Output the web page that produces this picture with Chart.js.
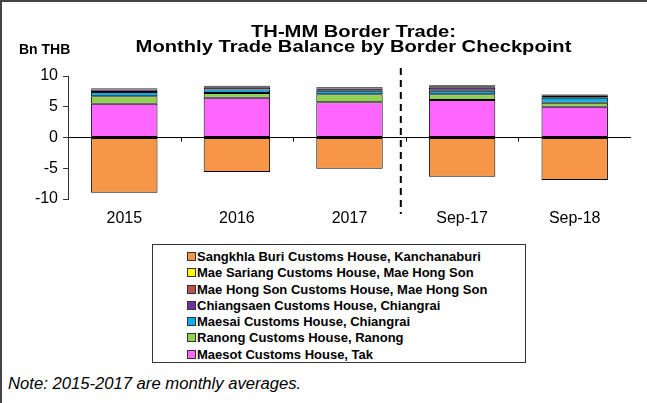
<!DOCTYPE html>
<html>
<head>
<meta charset="utf-8">
<script src="https://cdn.jsdelivr.net/npm/chart.js@4/dist/chart.umd.min.js"></script>
<style>
  html, body { margin: 0; padding: 0; background: #fff; }
  #frame {
    position: relative; width: 645px; height: 401px; overflow: hidden;
    border-left: 2px solid #444; border-top: 2px solid #444;
    font-family: "Liberation Sans", Arial, sans-serif;
  }
  #chartWrap { position: absolute; left: -2px; top: -2px; width: 647px; height: 240px; }
  #legend {
    position: absolute; left: 150px; top: 242px; width: 372px; height: 113px;
    border: 1.5px solid #333; padding-top: 4px; box-sizing: content-box;
  }
  .item { height: 16.3px; line-height: 16.3px; padding-left: 34px; font-weight: bold; font-size: 13px; color: #000; white-space: nowrap; }
  .sw { display: inline-block; width: 7px; height: 7px; border: 1px solid #333; margin-right: 1px; vertical-align: 0px; }
  #note { position: absolute; left: 6px; top: 373px; font-style: italic; font-size: 16px; color: #000; transform: scaleX(1.04); transform-origin: left center; white-space: nowrap; }
</style>
</head>
<body>
<div id="frame">
  <div id="chartWrap"><canvas id="c" width="647" height="240"></canvas></div>
  <div id="legend"></div>
  <div id="note">Note: 2015-2017 are monthly averages.</div>
</div>
<script>
// categories and series (Bn THB)
const categories = ['2015', '2016', '2017', 'Sep-17', 'Sep-18'];
const maesot      = [5.5, 6.45, 5.75, 6.1, 5.0];
const ranong      = [1.2, 0.8, 1.3, 0.95, 0.65];
const maesai      = [0.7, 0.57, 0.55, 0.55, 0.8];
const chiangsaen  = [0.4, 0.35, 0.35, 0.5, 0.35];
const maeHongSon  = [0.15, 0.15, 0.15, 0.25, 0.15];
const maeSariang  = [0.1, 0.1, 0.1, 0.15, 0.1];
const sangkhlaBuri = [-9.0, -5.6, -5.1, -6.4, -6.9];
const yTicks = [-10, -5, 0, 5, 10];

const font = '"Liberation Sans", Arial, sans-serif';

// bottom of the stack first, legend shows them reversed
const series = [
  { label: 'Maesot Customs House, Tak', data: maesot, color: '#FF66FF' },
  { label: 'Ranong Customs House, Ranong', data: ranong, color: '#92D050' },
  { label: 'Maesai Customs House, Chiangrai', data: maesai, color: '#00B0F0' },
  { label: 'Chiangsaen Customs House, Chiangrai', data: chiangsaen, color: '#7030A0' },
  { label: 'Mae Hong Son Customs House, Mae Hong Son', data: maeHongSon, color: '#C0504D' },
  { label: 'Mae Sariang Customs House, Mae Hong Son', data: maeSariang, color: '#FFFF00' },
  { label: 'Sangkhla Buri Customs House, Kanchanaburi', data: sangkhlaBuri, color: '#F79646' }
];

// html legend, same order as the original (reversed)
const legendEl = document.getElementById('legend');
series.slice().reverse().forEach(s => {
  const row = document.createElement('div');
  row.className = 'item';
  row.innerHTML = '<span class="sw" style="background:' + s.color + '"></span>' + s.label;
  legendEl.appendChild(row);
});

// title, unit label, dashed divider and little x ticks on the zero line
const extras = {
  id: 'extras',
  afterDraw(chart) {
    const ctx = chart.ctx;
    const x = chart.scales.x, y = chart.scales.y;
    const area = chart.chartArea;
    ctx.save();
    ctx.fillStyle = '#000';
    ctx.textAlign = 'center';
    ctx.textBaseline = 'alphabetic';
    ctx.font = 'bold 16px ' + font;
    const cx = (area.left + area.right) / 2 + 4;
    [['TH-MM Border Trade:', 37], ['Monthly Trade Balance by Border Checkpoint', 52]].forEach(([t, by]) => {
      ctx.save();
      ctx.translate(cx, by);
      ctx.scale(1.26, 1);
      ctx.fillText(t, 0, 0);
      ctx.restore();
    });
    ctx.textAlign = 'left';
    ctx.font = 'bold 14px ' + font;
    ctx.fillText('Bn THB', 19, 54);

    // tick marks at category boundaries on the zero line
    const y0 = y.getPixelForValue(0);
    ctx.strokeStyle = '#000';
    ctx.lineWidth = 1;
    for (let i = 1; i < categories.length; i++) {
      const bx = Math.round((x.getPixelForValue(i - 1) + x.getPixelForValue(i)) / 2) + 0.5;
      ctx.beginPath();
      ctx.moveTo(bx, y0);
      ctx.lineTo(bx, y0 + 4);
      ctx.stroke();
    }

    // dashed divider between annual averages and monthly values
    const dx = (x.getPixelForValue(2) + x.getPixelForValue(3)) / 2 - 5;
    ctx.setLineDash([7, 5]);
    ctx.lineWidth = 2;
    ctx.beginPath();
    ctx.moveTo(dx, 68);
    ctx.lineTo(dx, 214);
    ctx.stroke();
    ctx.restore();
  }
};

new Chart(document.getElementById('c').getContext('2d'), {
  type: 'bar',
  data: {
    labels: categories,
    datasets: series.map(s => ({
      label: s.label,
      data: s.data,
      backgroundColor: s.color,
      borderColor: '#000',
      borderWidth: 1,
      borderSkipped: false,
      categoryPercentage: 1,
      barPercentage: 0.59
    }))
  },
  options: {
    responsive: false,
    animation: false,
    layout: { padding: { top: 76, right: 16, left: 0, bottom: 0 } },
    plugins: {
      legend: { display: false },
      title: { display: false },
      tooltip: { enabled: false }
    },
    scales: {
      x: {
        stacked: true,
        grid: { display: false, drawTicks: false },
        border: { display: false },
        ticks: { color: '#000', font: { family: font, size: 16 }, padding: 10 },
        afterFit: s => { s.height = 41; }
      },
      y: {
        stacked: true,
        min: -10,
        max: 10,
        afterBuildTicks: s => { s.ticks = yTicks.map(v => ({ value: v })); },
        ticks: { color: '#000', font: { family: font, size: 16 }, padding: 5 },
        grid: {
          drawOnChartArea: true,
          color: c => (c.tick && c.tick.value === 0 ? '#000' : 'rgba(0,0,0,0)'),
          tickColor: '#333',
          tickLength: 5,
          lineWidth: 1
        },
        border: { display: true, color: '#333', width: 1 },
        afterFit: s => { s.width = 68; }
      }
    }
  },
  plugins: [extras]
});
</script>
</body>
</html>
